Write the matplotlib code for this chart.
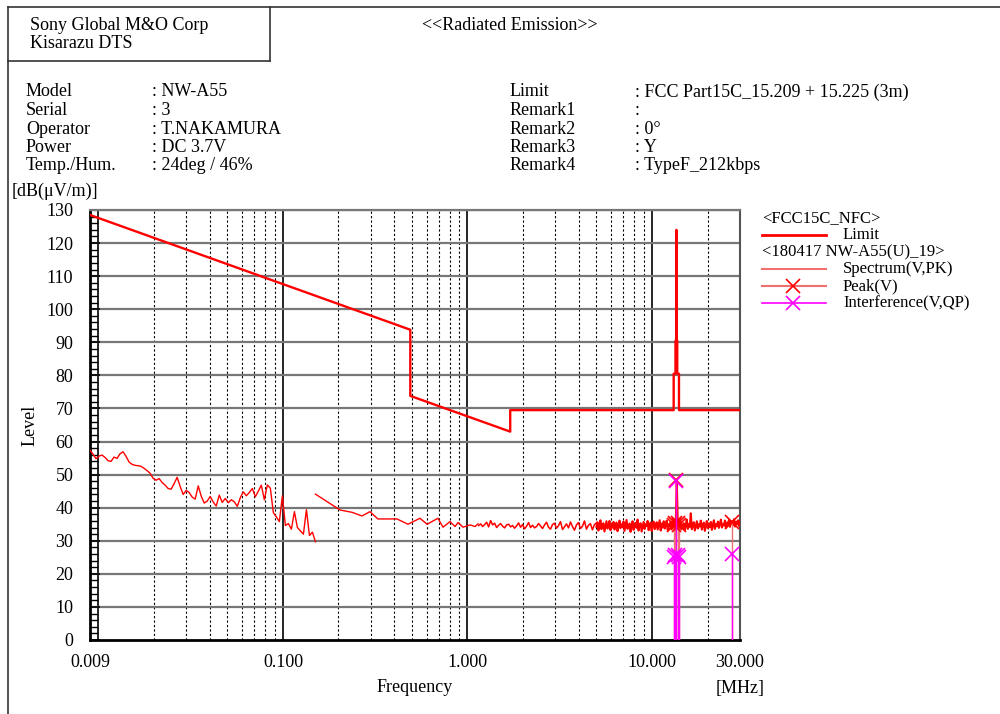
import numpy as np
import matplotlib
matplotlib.use("Agg")
import matplotlib.pyplot as plt
from matplotlib.lines import Line2D
from matplotlib.ticker import FixedLocator, NullFormatter, MultipleLocator

plt.rcParams['font.family'] = ['Liberation Serif', 'DejaVu Serif']

# ---- data ----
limit_freq = [0.009, 0.49, 0.49, 1.705, 1.705, 13.11, 13.11, 13.41, 13.41, 13.553,
              13.553, 13.567, 13.567, 13.71, 13.71, 14.01, 14.01, 30.0]
limit_level = [128.5, 93.8, 73.8, 63.0, 69.5, 69.5, 80.5, 80.5, 90.5, 90.5,
               124.0, 124.0, 90.5, 90.5, 80.5, 80.5, 69.5, 69.5]

# 9 kHz - 150 kHz sweep (76 points, log spaced)
low_level = [57.4, 56.2, 54.8, 55.6, 55.9, 55.2, 54.2, 54.0, 55.3, 54.9,
             56.3, 56.9, 55.5, 53.8, 53.1, 52.8, 52.7, 52.5, 51.9, 51.2,
             50.4, 48.9, 48.3, 48.8, 47.6, 46.8, 45.8, 45.6, 47.3, 49.2,
             46.4, 44.0, 45.2, 44.6, 43.2, 42.6, 46.6, 43.5, 41.4, 42.0,
             43.4, 41.7, 40.5, 43.8, 41.6, 42.8, 41.5, 42.4, 41.8, 40.4,
             43.0, 44.8, 43.6, 44.6, 45.8, 43.3, 45.0, 46.8, 42.4, 46.9,
             45.9, 38.5, 37.2, 35.8, 43.6, 34.6, 35.2, 33.5, 38.8, 34.0,
             33.0, 32.0, 39.4, 31.6, 32.6, 29.7]

# 150 kHz - 1.15 MHz
mid_freq = [0.15, 0.204, 0.237, 0.268, 0.296, 0.327, 0.415, 0.476, 0.553, 0.604,
            0.692, 0.737, 0.805, 0.856, 0.889, 0.946, 1.033, 1.099, 1.141]
mid_level = [44.1, 39.3, 38.6, 37.5, 38.8, 36.6, 36.6, 35.0, 36.8, 35.0,
             36.8, 34.1, 35.8, 34.3, 35.5, 34.1, 34.8, 34.3, 35.1]

# 1.15 MHz - 5 MHz (60 points, log spaced)
hi_a_level = [34.6, 35.1, 34.3, 34.9, 35.6, 34.2, 36.1, 34.8, 35.3, 34.0,
              34.7, 35.2, 34.4, 33.9, 34.8, 35.0, 34.2, 34.6, 33.8, 34.5,
              35.4, 34.1, 34.9, 33.6, 34.4, 35.5, 34.0, 34.7, 33.9, 34.3,
              35.2, 34.5, 33.7, 34.8, 35.6, 34.1, 33.5, 34.9, 35.3, 33.8,
              34.6, 35.8, 33.4, 34.2, 35.1, 33.9, 35.7, 34.3, 33.2, 34.8,
              35.5, 33.7, 34.4, 36.0, 33.5, 34.7, 35.2, 33.3, 34.9, 35.4]

# 5 MHz - 30 MHz (144 points, log spaced)
hi_b_level = [34.2, 35.6, 33.1, 34.8, 36.2, 33.5, 34.9, 35.3, 32.8, 34.4,
              35.9, 33.7, 34.6, 36.0, 33.2, 35.1, 34.0, 35.7, 33.4, 34.8,
              35.5, 32.9, 34.3, 36.1, 33.8, 35.0, 34.1, 35.8, 33.0, 34.7,
              36.3, 33.6, 34.5, 35.2, 32.7, 34.9, 35.9, 33.3, 34.6, 35.4,
              33.9, 36.4, 33.1, 34.8, 35.3, 32.8, 34.2, 35.7, 33.6, 35.0,
              34.4, 36.0, 33.2, 34.7, 35.5, 33.0, 34.9, 35.8, 33.5, 34.3,
              35.6, 33.4, 34.8, 36.2, 33.1, 35.2, 34.0, 35.9, 33.7, 34.6,
              36.1, 33.3, 35.0, 34.4, 35.7, 33.8, 36.0, 34.5, 36.3, 35.1,
              48.5, 35.4, 36.2, 34.6, 35.8, 33.9, 34.7, 35.3, 33.2, 34.9,
              36.4, 33.6, 35.1, 34.2, 38.3, 33.5, 34.8, 35.6, 33.1, 34.5,
              35.9, 33.7, 35.0, 34.3, 36.1, 33.4, 34.8, 35.5, 33.0, 34.6,
              36.0, 33.8, 35.2, 34.1, 35.7, 33.3, 34.9, 36.2, 33.6, 35.0,
              34.4, 35.8, 33.9, 35.3, 36.4, 34.0, 35.1, 34.6, 36.1, 33.8,
              35.5, 34.9, 36.3, 34.2, 35.6, 35.9, 34.7, 36.5, 34.3, 35.8,
              35.0, 36.2, 34.5, 35.7]

peak_freq = [13.136, 13.348, 13.56, 13.772, 13.984, 27.12]
peak_level = [34.8, 35.3, 48.5, 35.5, 34.9, 35.8]
qp_level = [25.2, 25.8, 48.0, 25.6, 25.1, 25.9]

yticks = list(range(0, 131, 10))
xtick_vals = [0.009, 0.1, 1.0, 10.0, 30.0]
xtick_labels = ['0.009', '0.100', '1.000', '10.000', '30.000']

# ---- figure ----
W, H = 1000, 714
fig = plt.figure(figsize=(W / 100, H / 100), dpi=100)


def fx(px):
    return px / W


def fy(py):
    return 1 - py / H


def ftext(px, py, s, **kw):
    kw.setdefault('fontsize', 13)
    kw.setdefault('va', 'center')
    fig.text(fx(px), fy(py), s, **kw)


ax = fig.add_axes([fx(90), fy(640), fx(740) - fx(90), fy(210) - fy(640)])

red = '#ff0000'
salmon = '#f07070'
magenta = '#ff00ff'

ax.plot(np.geomspace(0.009, 0.15, len(low_level)), low_level, color=red, lw=1, zorder=4)
ax.plot(mid_freq, mid_level, color=red, lw=1, zorder=4)
ax.plot(np.geomspace(1.15, 5.0, len(hi_a_level)), hi_a_level, color=red, lw=1.1, zorder=4)
ax.plot(np.geomspace(5.0, 30.0, len(hi_b_level)), hi_b_level, color=red, lw=1.5, zorder=4)
ax.plot(limit_freq, limit_level, color=red, lw=1.7, zorder=5)

ax.vlines(peak_freq, 0, peak_level, color=salmon, lw=1, zorder=6)
ax.plot(peak_freq, peak_level, 'x', color=red, ms=10, mew=1.2, zorder=7)
ax.vlines(peak_freq, 0, qp_level, color=magenta, lw=1, zorder=8)
ax.plot(peak_freq, qp_level, 'x', color=magenta, ms=10, mew=1.2, zorder=9)

ax.set_xscale('log')
ax.set_xlim(0.009, 30)
ax.set_ylim(0, 130)

major = [0.01, 0.1, 1, 10]
minor = [m * d for d in [0.01, 0.1, 1, 10] for m in range(2, 10) if m * d < 30] + [20]
for v in sorted(set(minor)):
    ax.axvline(v, color='black', lw=0.8, ls=(0, (2, 2)), zorder=1)
for v in major:
    ax.axvline(v, color='black', lw=1.2, zorder=1)
for v in yticks[1:]:
    ax.axhline(v, color='#777777', lw=1.6, zorder=1)

ax.xaxis.set_major_locator(FixedLocator(xtick_vals))
ax.set_xticklabels(xtick_labels, fontsize=13)
ax.xaxis.set_minor_locator(FixedLocator([]))
ax.xaxis.set_minor_formatter(NullFormatter())
ax.tick_params(axis='x', length=0, pad=10)
ax.set_yticks(yticks)
ax.set_yticklabels([str(v) for v in yticks], fontsize=13)
ax.yaxis.set_minor_locator(MultipleLocator(2))
ax.tick_params(axis='y', which='major', direction='in', length=7, width=1.2, pad=12)
ax.tick_params(axis='y', which='minor', direction='in', length=6, width=1.0)

for side in ['left', 'bottom']:
    ax.spines[side].set_linewidth(2)
ax.spines['right'].set_color('#555555')
ax.spines['right'].set_linewidth(1.5)
ax.spines['top'].set_color('#777777')
ax.spines['top'].set_linewidth(1.6)

# ---- frame and header ----
fig.add_artist(Line2D([fx(8), fx(1000)], [fy(7), fy(7)], color='#333333', lw=1.2))
fig.add_artist(Line2D([fx(8), fx(8)], [fy(7), fy(714)], color='#333333', lw=1.2))
fig.add_artist(Line2D([fx(8), fx(270)], [fy(61), fy(61)], color='#333333', lw=1.2))
fig.add_artist(Line2D([fx(270), fx(270)], [fy(7), fy(61)], color='#333333', lw=1.2))

ftext(30, 25, 'Sony Global M&O Corp')
ftext(30, 43, 'Kisarazu DTS')
ftext(510, 25, '<<Radiated Emission>>', ha='center')

left_labels = ['Model', 'Serial', 'Operator', 'Power', 'Temp./Hum.']
left_values = [': NW-A55', ': 3', ': T.NAKAMURA', ': DC 3.7V', ': 24deg / 46%']
right_labels = ['Limit', 'Remark1', 'Remark2', 'Remark3', 'Remark4']
right_values = [': FCC Part15C_15.209 + 15.225 (3m)', ':', ': 0°', ': Y', ': TypeF_212kbps']
for i in range(5):
    py = 92 + i * 18.5
    ftext(26, py, left_labels[i])
    ftext(152, py, left_values[i])
    ftext(510, py, right_labels[i])
    ftext(635, py, right_values[i])

ftext(12, 191, '[dB(μV/m)]')
ftext(30, 425, 'Level', rotation=90, ha='center')
ftext(415, 688, 'Frequency', ha='center')
ftext(740, 688, '[MHz]', ha='center')

# ---- legend ----
lx0, lx1, ltx = 762, 826, 843
ftext(762, 218, '<FCC15C_NFC>', fontsize=12)
fig.add_artist(Line2D([fx(lx0), fx(lx1)], [fy(235), fy(235)], color=red, lw=2))
ftext(ltx, 235, 'Limit', fontsize=12)
ftext(762, 252, '<180417 NW-A55(U)_19>', fontsize=12)
fig.add_artist(Line2D([fx(lx0), fx(lx1)], [fy(269), fy(269)], color=salmon, lw=1.5))
ftext(ltx, 269, 'Spectrum(V,PK)', fontsize=12)
fig.add_artist(Line2D([fx(lx0), fx(lx1)], [fy(286), fy(286)], color=salmon, lw=1.5))
fig.add_artist(Line2D([fx(793)], [fy(286)], color=red, marker='x', ms=10, mew=1.2, ls='none'))
ftext(ltx, 286, 'Peak(V)', fontsize=12)
fig.add_artist(Line2D([fx(lx0), fx(lx1)], [fy(303), fy(303)], color=magenta, lw=1.2))
fig.add_artist(Line2D([fx(793)], [fy(303)], color=magenta, marker='x', ms=10, mew=1.2, ls='none'))
ftext(ltx, 303, 'Interference(V,QP)', fontsize=12)

fig.savefig('out.png', dpi=100, facecolor='white')
